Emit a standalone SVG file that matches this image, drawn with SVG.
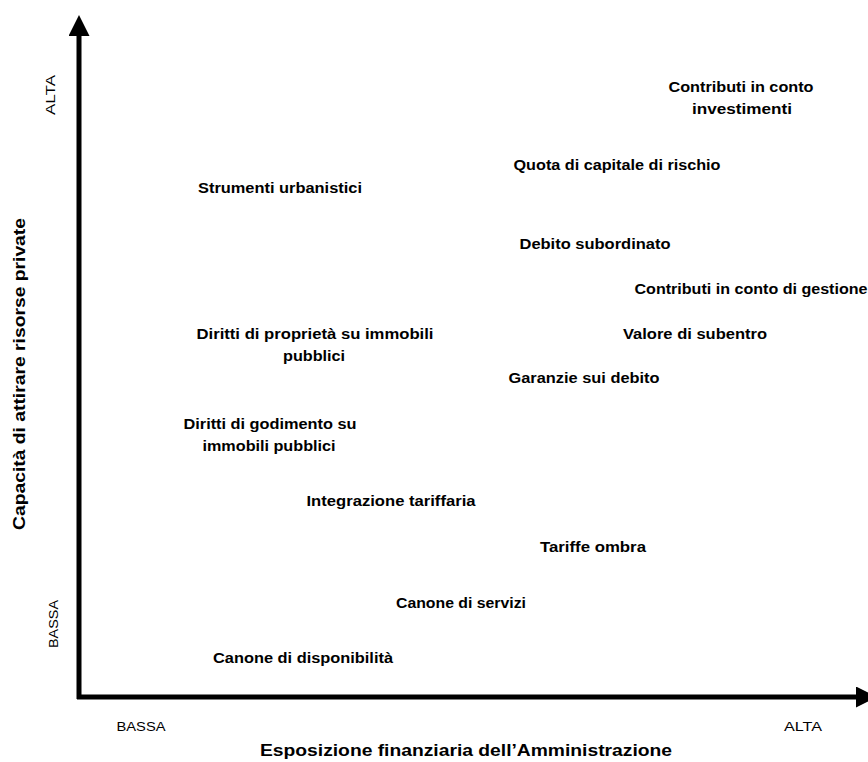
<svg xmlns="http://www.w3.org/2000/svg" width="868" height="762" viewBox="0 0 868 762">
<style>
.lbl{font-family:"Liberation Sans",Arial,sans-serif;font-weight:bold;font-size:14px;fill:#000;text-anchor:middle}
.tick{font-family:"Liberation Sans",Arial,sans-serif;font-size:12px;fill:#000;text-anchor:middle}
.ax{font-family:"Liberation Sans",Arial,sans-serif;font-weight:bold;font-size:16px;fill:#000;text-anchor:middle}
</style>
<defs>
<marker id="ah" viewBox="0 0 10 10" refX="0" refY="5" markerWidth="4.2" markerHeight="4.2" markerUnits="strokeWidth" orient="auto">
<path d="M0,0 L10,5 L0,10 Z" fill="#000"/>
</marker>
</defs>
<rect width="868" height="762" fill="#fff"/>
<g id="connectors">
<path d="M79,699 L79,36" stroke="#000" stroke-width="5" fill="none" marker-end="url(#ah)"/>
<path d="M77,697 L856,697" stroke="#000" stroke-width="5" fill="none" marker-end="url(#ah)"/>
</g>
<g id="axis-labels">
<text class="ax" x="466" y="756" textLength="412" lengthAdjust="spacingAndGlyphs">Esposizione finanziaria dell’Amministrazione</text>
<text class="ax" transform="translate(25,374) rotate(-90)" textLength="312" lengthAdjust="spacingAndGlyphs">Capacità di attirare risorse private</text>
<text class="tick" x="141" y="731" textLength="49" lengthAdjust="spacingAndGlyphs">BASSA</text>
<text class="tick" x="803" y="731" textLength="38" lengthAdjust="spacingAndGlyphs">ALTA</text>
<text class="tick" transform="translate(55,95) rotate(-90)" textLength="40" lengthAdjust="spacingAndGlyphs">ALTA</text>
<text class="tick" transform="translate(58,624) rotate(-90)" textLength="48" lengthAdjust="spacingAndGlyphs">BASSA</text>
</g>
<g id="n1"><text class="lbl" x="741" y="92" textLength="145" lengthAdjust="spacingAndGlyphs">Contributi in conto</text><text class="lbl" x="742" y="114" textLength="100" lengthAdjust="spacingAndGlyphs">investimenti</text></g>
<g id="n2"><text class="lbl" x="617" y="170" textLength="207" lengthAdjust="spacingAndGlyphs">Quota di capitale di rischio</text></g>
<g id="n3"><text class="lbl" x="280" y="193" textLength="164" lengthAdjust="spacingAndGlyphs">Strumenti urbanistici</text></g>
<g id="n4"><text class="lbl" x="595" y="249" textLength="151" lengthAdjust="spacingAndGlyphs">Debito subordinato</text></g>
<g id="n5"><text class="lbl" x="751" y="294" textLength="233" lengthAdjust="spacingAndGlyphs">Contributi in conto di gestione</text></g>
<g id="n6"><text class="lbl" x="315" y="339" textLength="237" lengthAdjust="spacingAndGlyphs">Diritti di proprietà su immobili</text><text class="lbl" x="314" y="361" textLength="62" lengthAdjust="spacingAndGlyphs">pubblici</text></g>
<g id="n7"><text class="lbl" x="695" y="339" textLength="144" lengthAdjust="spacingAndGlyphs">Valore di subentro</text></g>
<g id="n8"><text class="lbl" x="584" y="383" textLength="151" lengthAdjust="spacingAndGlyphs">Garanzie sui debito</text></g>
<g id="n9"><text class="lbl" x="270" y="429" textLength="173" lengthAdjust="spacingAndGlyphs">Diritti di godimento su</text><text class="lbl" x="269" y="451" textLength="133" lengthAdjust="spacingAndGlyphs">immobili pubblici</text></g>
<g id="n10"><text class="lbl" x="391" y="506" textLength="169" lengthAdjust="spacingAndGlyphs">Integrazione tariffaria</text></g>
<g id="n11"><text class="lbl" x="593" y="552" textLength="106" lengthAdjust="spacingAndGlyphs">Tariffe ombra</text></g>
<g id="n12"><text class="lbl" x="461" y="608" textLength="130" lengthAdjust="spacingAndGlyphs">Canone di servizi</text></g>
<g id="n13"><text class="lbl" x="303" y="663" textLength="180" lengthAdjust="spacingAndGlyphs">Canone di disponibilità</text></g>
</svg>
